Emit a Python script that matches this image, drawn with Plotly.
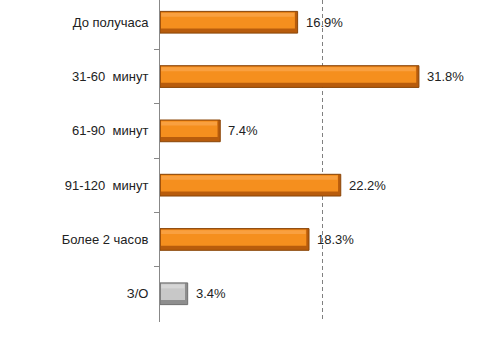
import plotly.graph_objects as go

categories = ["До получаса", "31-60  минут", "61-90  минут", "91-120  минут", "Более 2 часов", "З/О"]
values = [16.9, 31.8, 7.4, 22.2, 18.3, 3.4]
labels = ["16.9%", "31.8%", "7.4%", "22.2%", "18.3%", "3.4%"]

is_grey = [c == "З/О" for c in categories]
base_col = ["#8E8E8E" if g else "#B85C0C" for g in is_grey]
edge_col = ["#707070" if g else "#8A4608" for g in is_grey]
mid_col = ["#C8C8C8" if g else "#F58F1E" for g in is_grey]
hi_col = ["#D6D6D6" if g else "#F9A040" for g in is_grey]

fig = go.Figure()
# base (dark) bar
fig.add_trace(go.Bar(y=categories, x=values, orientation="h", width=0.40,
                     marker=dict(color=base_col, line=dict(color=edge_col, width=1)),
                     hoverinfo="skip", showlegend=False))
# main face
inner = [v - 0.45 for v in values]
fig.add_trace(go.Bar(y=categories, x=inner, base=0.12, orientation="h", width=0.30, offset=-0.185,
                     marker=dict(color=mid_col, line=dict(width=0)),
                     hoverinfo="skip", showlegend=False))
# soft highlight
hi = [v - 0.55 for v in values]
fig.add_trace(go.Bar(y=categories, x=hi, base=0.15, orientation="h", width=0.07, offset=-0.17,
                     marker=dict(color=hi_col, line=dict(width=0)),
                     hoverinfo="skip", showlegend=False))

for c, v, t in zip(categories, values, labels):
    fig.add_annotation(x=v, y=c, text=t, showarrow=False, xanchor="left", xshift=6,
                       font=dict(size=13, color="#222222", family="Liberation Sans, Arial, sans-serif"))

fig.update_layout(
    width=480, height=345, barmode="overlay",
    margin=dict(l=160, r=0, t=0, b=23),
    paper_bgcolor="white", plot_bgcolor="white",
    font=dict(family="Liberation Sans, Arial, sans-serif", size=13, color="#222222"),
    xaxis=dict(range=[0, 39.3], dtick=20, showgrid=True, gridcolor="#808080", griddash="4px,3px",
               gridwidth=1, showticklabels=False, zeroline=False, showline=False, ticks=""),
    yaxis=dict(type="category", categoryorder="array", categoryarray=categories,
               range=[5.52, -0.41], showline=True, linecolor="#888888", linewidth=1,
               ticks="outside", ticklen=5, tickcolor="#888888", tickson="boundaries",
               showgrid=False, ticklabelstandoff=8),
)

fig.write_html("out.html")
